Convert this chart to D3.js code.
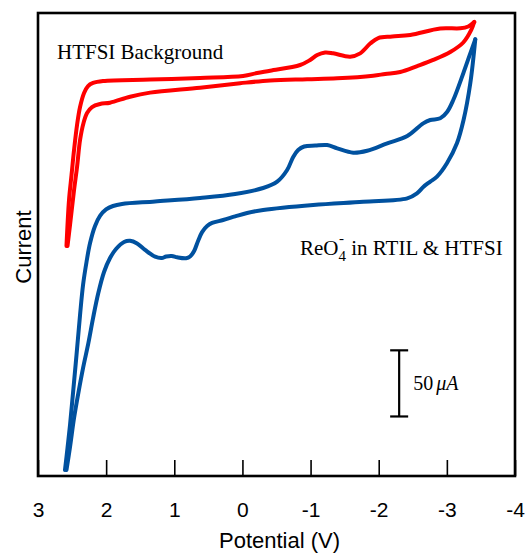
<!DOCTYPE html>
<html>
<head>
<meta charset="utf-8">
<script src="https://cdn.jsdelivr.net/npm/d3@7"></script>
<style>
  html, body { margin: 0; padding: 0; background: #fff; }
  svg { display: block; }
</style>
</head>
<body>
<svg id="chart" width="525" height="553"></svg>
<script>
// Potential (V) and current (uA, arbitrary offset)
const redUpV = [2.582, 2.545, 2.508, 2.471, 2.427, 2.383, 2.324, 2.266, 2.192, 2.046, 1.355, 0.621, -0.010, -0.216, -0.407, -0.847, -0.994, -1.097, -1.214, -1.332, -1.581, -1.728, -1.875, -1.993, -2.198, -2.463, -2.903, -3.197, -3.314, -3.402];
const redUpI = [173.9, 208.6, 227.5, 246.4, 265.3, 278.9, 289.5, 294.8, 297.1, 298.6, 299.7, 300.9, 302.4, 304.6, 306.4, 310.7, 314.5, 318.2, 320.1, 319.5, 317.0, 319.5, 326.9, 331.1, 332.2, 333.4, 338.3, 338.4, 339.8, 343.2];
const redDownV = [-3.402, -3.358, -3.241, -3.050, -2.800, -2.565, -2.316, -2.095, -1.919, -1.391, -0.950, -0.407, 0.034, 0.621, 1.355, 1.649, 1.943, 2.090, 2.207, 2.280, 2.332, 2.383, 2.427, 2.471, 2.530, 2.567];
const redDownI = [343.2, 337.2, 327.7, 320.5, 314.5, 309.9, 305.4, 303.9, 302.6, 300.6, 299.9, 299.0, 296.9, 293.5, 289.8, 286.7, 282.2, 281.2, 278.9, 274.4, 266.9, 254.0, 233.6, 216.2, 189.7, 173.9];

const blueUpV = [2.604, 2.567, 2.530, 2.486, 2.435, 2.383, 2.339, 2.288, 2.236, 2.163, 2.090, 2.001, 1.899, 1.767, 1.282, 0.621, 0.107, -0.304, -0.510, -0.656, -0.745, -0.818, -0.906, -1.068, -1.244, -1.391, -1.626, -1.831, -2.125, -2.419, -2.653, -2.756, -2.903, -3.006, -3.094, -3.241, -3.344, -3.417];
const blueUpI = [4.5, 21.2, 38.6, 62.7, 91.5, 121.7, 144.4, 161.8, 176.1, 189.0, 196.6, 201.5, 204.1, 205.6, 207.5, 210.2, 213.2, 217.7, 222.5, 231.3, 241.2, 246.4, 249.1, 249.8, 250.2, 247.7, 244.4, 245.9, 251.5, 257.0, 266.6, 269.1, 270.4, 275.4, 284.2, 304.4, 319.5, 330.1];
const blueDownV = [-3.417, -3.344, -3.245, -3.148, -3.001, -2.855, -2.756, -2.658, -2.561, -2.419, -1.772, -1.038, -0.304, -0.069, 0.107, 0.283, 0.445, 0.518, 0.592, 0.651, 0.709, 0.768, 0.827, 0.959, 1.037, 1.120, 1.184, 1.282, 1.429, 1.546, 1.649, 1.737, 1.855, 1.943, 2.031, 2.115, 2.192, 2.261, 2.339, 2.408, 2.471, 2.530, 2.582];
const blueDownI = [330.1, 296.9, 269.1, 251.5, 236.4, 226.3, 222.5, 218.7, 213.7, 209.9, 207.4, 204.9, 201.1, 198.8, 196.2, 193.5, 191.3, 189.0, 184.4, 177.7, 170.1, 165.9, 164.6, 165.3, 166.3, 165.9, 164.8, 165.8, 170.9, 175.8, 177.8, 176.9, 171.6, 164.8, 154.2, 138.3, 119.4, 100.5, 81.6, 62.7, 43.8, 21.9, 4.5];

const xTicks = [3, 2, 1, 0, -1, -2, -3, -4];
const xDomain = [3, -4];
const yDomain = [0, 350];
const scaleBarV = -2.30;
const scaleBarI = [45, 95];
const scaleBarLabel = "50";
const scaleBarUnit = "\u03BCA";

const series = [
  { name: "HTFSI Background", color: "#ff0000", branches: [[redUpV, redUpI], [redDownV, redDownI]] },
  { name: "ReO4- in RTIL & HTFSI", color: "#00519f", branches: [[blueUpV, blueUpI], [blueDownV, blueDownI]] }
];

const svg = d3.select("#chart");
const L = 38, R = 515, T = 13, B = 476;
const x = d3.scaleLinear().domain(xDomain).range([L, R]);
const y = d3.scaleLinear().domain(yDomain).range([B, T]);

const line = d3.line()
  .x(d => x(d[0]))
  .y(d => y(d[1]))
  .curve(d3.curveCatmullRom.alpha(0.5));

series.forEach(s => {
  s.branches.forEach(([vs, is]) => {
    const pts = vs.map((v, i) => [v, is[i]]);
    svg.append("path")
      .attr("d", line(pts))
      .attr("fill", "none")
      .attr("stroke", s.color)
      .attr("stroke-width", 4)
      .attr("stroke-linecap", "round")
      .attr("stroke-linejoin", "round");
  });
});

// axis with inward ticks
const axis = d3.axisBottom(x)
  .tickValues(xTicks)
  .tickFormat(d3.format("d"))
  .tickSizeInner(-16)
  .tickSizeOuter(0)
  .tickPadding(26);
const gx = svg.append("g").attr("transform", `translate(0,${B})`).call(axis);
gx.select(".domain").remove();
gx.selectAll(".tick line").attr("stroke", "#000").attr("stroke-width", 1.6);
gx.selectAll(".tick text")
  .attr("fill", "#000")
  .style("font-family", "'Liberation Sans', Arial, sans-serif")
  .style("font-size", "21px")
  .text(d => String(d));

// frame
svg.append("rect")
  .attr("x", L).attr("y", T)
  .attr("width", R - L).attr("height", B - T)
  .attr("fill", "none")
  .attr("stroke", "#000")
  .attr("stroke-width", 2.6);

// axis titles
svg.append("text")
  .attr("x", (L + R) / 2 + 3).attr("y", 548)
  .attr("text-anchor", "middle")
  .style("font-family", "'Liberation Sans', Arial, sans-serif")
  .style("font-size", "22px")
  .text("Potential (V)");

svg.append("text")
  .attr("transform", "translate(31,247) rotate(-90)")
  .attr("text-anchor", "middle")
  .style("font-family", "'Liberation Sans', Arial, sans-serif")
  .style("font-size", "22px")
  .text("Current");

// annotations
const serif = "'Liberation Serif', 'Times New Roman', serif";
svg.append("text")
  .attr("x", 57).attr("y", 59)
  .style("font-family", serif)
  .style("font-size", "21px")
  .text("HTFSI Background");

const t2 = svg.append("text")
  .attr("x", 300).attr("y", 255)
  .style("font-family", serif)
  .style("font-size", "21px");
t2.append("tspan").text("ReO");
t2.append("tspan").attr("y", 261).style("font-size", "15px").text("4");
t2.append("tspan").attr("dx", -7).attr("y", 243).style("font-size", "15px").text("-");
t2.append("tspan").attr("dx", 2).attr("y", 255).text(" in RTIL & HTFSI");

// scale bar
const sbx = x(scaleBarV);
const sg = svg.append("g").attr("stroke", "#000").attr("stroke-width", 2.2);
sg.append("line").attr("x1", sbx).attr("x2", sbx).attr("y1", y(scaleBarI[0])).attr("y2", y(scaleBarI[1]));
sg.append("line").attr("x1", sbx - 9).attr("x2", sbx + 9).attr("y1", y(scaleBarI[0])).attr("y2", y(scaleBarI[0]));
sg.append("line").attr("x1", sbx - 9).attr("x2", sbx + 9).attr("y1", y(scaleBarI[1])).attr("y2", y(scaleBarI[1]));

const t3 = svg.append("text")
  .attr("x", sbx + 14).attr("y", (y(scaleBarI[0]) + y(scaleBarI[1])) / 2 + 7)
  .style("font-family", serif)
  .style("font-size", "20px");
t3.append("tspan").text(scaleBarLabel);
t3.append("tspan").attr("dx", 3).style("font-style", "italic").text(scaleBarUnit);
</script>
</body>
</html>
